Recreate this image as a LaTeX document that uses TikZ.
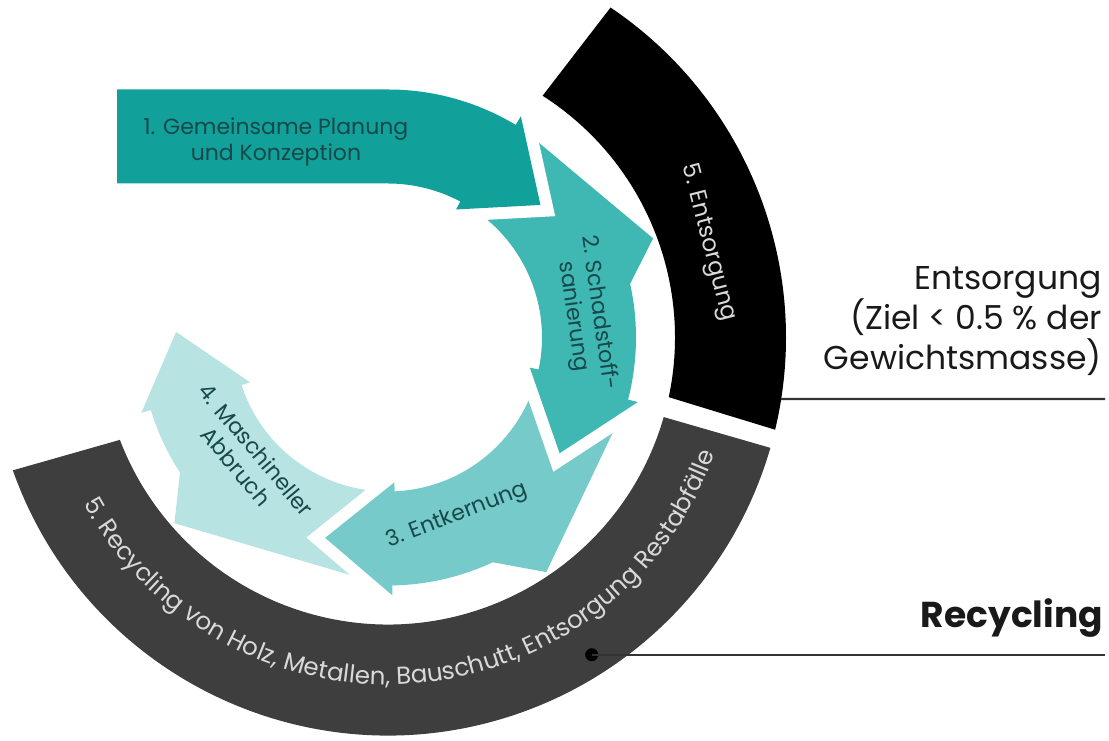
\documentclass[tikz,border=0pt]{standalone}
\usepackage{fontspec}
\setmainfont{Poppins}
\usetikzlibrary{decorations.text}
\definecolor{arrA}{HTML}{12A09A}
\definecolor{arrB}{HTML}{3FB7B3}
\definecolor{arrC}{HTML}{76CACA}
\definecolor{arrD}{HTML}{B7E3E3}
\definecolor{steptxt}{HTML}{17484A}
\definecolor{bandgray}{HTML}{3E3E3E}
\definecolor{bandtxt}{HTML}{D9D9D9}
\newcommand\recfont{\color{bandtxt}\fontsize{24.5}{24.5}\selectfont}
\begin{document}
\begin{tikzpicture}[x=1pt,y=1pt,
  halo/.style={preaction={draw=white,line width=24pt,line join=miter,miter limit=4}},
  steplbl/.style={text=steptxt,font=\fontsize{22}{26}\selectfont,align=center,inner sep=0pt},
  bandlbl/.style={text=bandtxt,font=\fontsize{23.5}{26}\selectfont,inner sep=0pt},
  sidelbl/.style={text=black!90,font=\fontsize{33}{40}\selectfont,inner sep=0pt},
  leader/.style={draw=black!80,line width=2.2pt},
  dot/.style={circle,fill=black,inner sep=0pt,minimum size=13pt}]
\useasboundingbox (0,0) rectangle (1109,741);
\begin{scope}[shift={(388,403.5)}]
  \fill[arrD,halo] (269.5:154) -- (269.5:248) -- (221:283) -- (213:248) arc[start angle=213,end angle=197,radius=248] -- (197:258) -- (178.5:212) -- (198:145) -- (198:154) arc[start angle=198,end angle=269.5,radius=154] -- cycle;
  \fill[arrC,halo] (-15:154) -- (-15:248) -- (-56:283) -- (-65:248) arc[start angle=-65,end angle=-89,radius=248] -- (-89:258) -- (-107.4:210) -- (-87.5:145) -- (-87.5:154) arc[start angle=-87.5,end angle=-15,radius=154] -- cycle;
  \fill[arrB,halo] (57:154) -- (57:248) -- (20.5:283) -- (12.5:248) arc[start angle=12.5,end angle=-14.5,radius=248] -- (-14.5:258) -- (-34:207) -- (-12:145) -- (-12:154) arc[start angle=-12,end angle=57,radius=154] -- cycle;
  \fill[arrA,halo] (-271,154) -- (-271,248) -- (90:248) arc[start angle=90,end angle=59,radius=248] -- (59:258) -- (41:202) -- (62:145) -- (62:154) arc[start angle=62,end angle=90,radius=154] -- cycle;
  \node[steplbl] (plan) at (-112,195.5) {1. Gemeinsame Planung\\und Konzeption};
  \node[steplbl,rotate=-82] (schad) at (6.5:199) {2. Schadstoff-\\sanierung};
  \node[steplbl,rotate=21] (kern) at (-68.9:191) {3. Entkernung};
  \node[steplbl,rotate=-50] (abbr) at (220.4:186) {4. Maschineller\\Abbruch};
  \fill[black] (-12:287) arc[start angle=-12,end angle=57.4,radius=287] -- (56:398) arc[start angle=56,end angle=-13.4,radius=398] -- cycle;
  \fill[bandgray] (-16.1:287) arc[start angle=-16.1,end angle=-159.1,radius=287] -- (-160.5:398) arc[start angle=-160.5,end angle=-16.1,radius=398] -- cycle;
  \node[bandlbl,rotate=-75.5] (ents) at (16.5:334) {5. Entsorgung};
  \path[decorate,decoration={text along path,text align=center,
    text={|\recfont|5. Recycling von Holz, Metallen, Bauschutt, Entsorgung Restabfälle}}]
    (204:347) arc[start angle=204,end angle=345,radius=347];
  \coordinate (entsA) at (-8.9:398);
  \node[dot] (recdot) at (-57.3:377) {};
\end{scope}
\coordinate (entsB) at (1105,342);
\coordinate (recB) at (1105,86);
\draw[leader] (entsA) -- (entsB);
\draw[leader] (recdot.center) -- (recdot.center -| recB);
\node[sidelbl,anchor=base east,align=right] (entslbl) at (1102,371) {Entsorgung\\(Ziel < 0.5 \% der\\Gewichtsmasse)};
\node[sidelbl,font=\fontsize{36}{40}\selectfont\bfseries,anchor=base east] (reclbl) at (1103,113) {Recycling};
\end{tikzpicture}
\end{document}
